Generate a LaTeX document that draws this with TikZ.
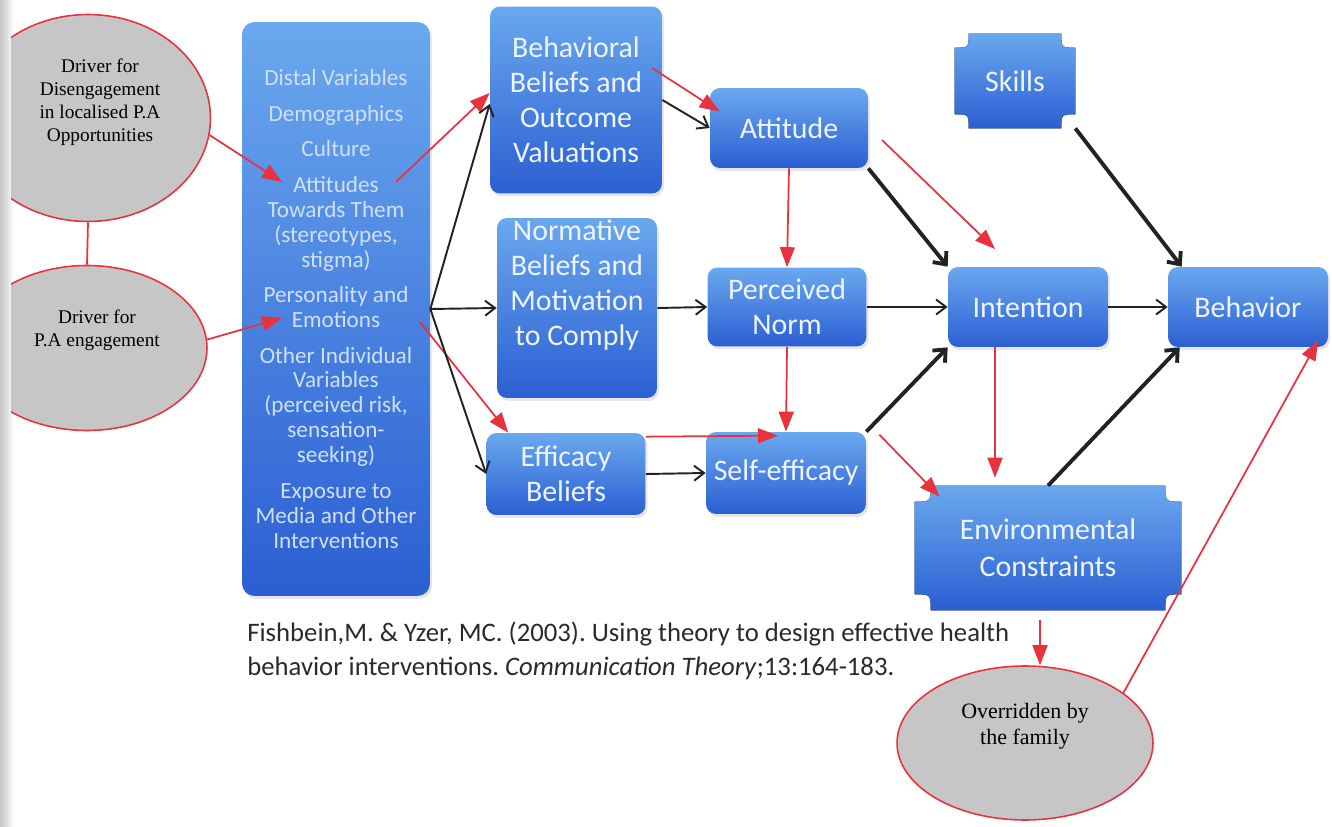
\documentclass[tikz,border=0pt]{standalone}
\usepackage{fontspec}
\setmainfont{Liberation Serif}
\newfontfamily\boxfont{Carlito}
\usetikzlibrary{calc, arrows.meta, shapes.geometric, backgrounds, shadows}

\definecolor{boxtop}{HTML}{6AA8EE}
\definecolor{boxbot}{HTML}{2B5FD2}
\definecolor{boxtext}{HTML}{EEF4FF}
\definecolor{disttext}{HTML}{D0E0FA}
\definecolor{linkred}{HTML}{E8323E}
\definecolor{ovalgray}{HTML}{C6C6C6}
\definecolor{linkblack}{HTML}{222222}
\definecolor{citegray}{HTML}{2A2A2A}

\tikzset{
  blk/.style={rounded corners=0.2cm, top color=boxtop, bottom color=boxbot,
    text=boxtext, align=center, inner sep=0pt,
    font=\boxfont\fontsize{17}{20}\selectfont,
    drop shadow={opacity=0.2, shadow xshift=0.4mm, shadow yshift=-0.6mm}},
  plaquetext/.style={text=boxtext, align=center, inner sep=0pt,
    font=\boxfont\fontsize{17}{21}\selectfont},
  oval/.style={ellipse, fill=ovalgray, draw=linkred, line width=0.9pt, inner sep=0pt},
  ovaltext/.style={align=center, font=\fontsize{11}{13}\selectfont},
  redarr/.style={linkred, line width=1pt, -{Triangle[length=4mm,width=3mm]}},
  thinarr/.style={linkblack, line width=1.1pt, -{Straight Barb[length=2mm,width=3mm]}},
  thickarr/.style={linkblack, line width=2.2pt, -{Straight Barb[length=2mm,width=3.5mm]}},
}

% box with hollowed corners, drawn round a named node
\newcommand{\plaque}[2]{%
  \fill[top color=boxtop, bottom color=boxbot]
    ($(#1.north west)+(#2,0pt)$) -- ($(#1.north east)+(-#2,0pt)$)
    .. controls ($(#1.north east)+(-#2,-#2)$) .. ($(#1.north east)+(0pt,-#2)$)
    -- ($(#1.south east)+(0pt,#2)$)
    .. controls ($(#1.south east)+(-#2,#2)$) .. ($(#1.south east)+(-#2,0pt)$)
    -- ($(#1.south west)+(#2,0pt)$)
    .. controls ($(#1.south west)+(#2,#2)$) .. ($(#1.south west)+(0pt,#2)$)
    -- ($(#1.north west)+(0pt,-#2)$)
    .. controls ($(#1.north west)+(#2,-#2)$) .. ($(#1.north west)+(#2,0pt)$) -- cycle;}

\begin{document}
\begin{tikzpicture}[x=0.02cm, y=-0.02cm]

  \useasboundingbox (0,0) rectangle (1332,827);
  \shade[left color=gray!45, right color=white] (0,0) rectangle (14,827);

  % 1. the two drivers, cut at the fold
  \begin{scope}
    \clip (11,0) rectangle (400,827);
    \node[oval, minimum width=4.9cm, minimum height=4.14cm] (e1) at (88,118) {};
    \node[oval, minimum width=4.8cm, minimum height=3.3cm] (e2) at (87,348) {};
  \end{scope}
  \node[ovaltext] (e1txt) at (100,102) {Driver for\\Disengagement\\in localised P.A\\Opportunities};
  \node[ovaltext] (e2txt) at (97,330) {Driver for\\P.A engagement};

  % 2. distal variables
  \node[blk, rounded corners=0.25cm, minimum width=3.76cm, minimum height=11.48cm,
        text=disttext, font=\boxfont\fontsize{13.2}{14.2}\selectfont] (dist) at (336,309)
    {Distal Variables\\[6pt]
     Demographics\\[6pt]
     Culture\\[6pt]
     Attitudes\\Towards Them\\(stereotypes,\\stigma)\\[6pt]
     Personality and\\Emotions\\[6pt]
     Other Individual\\Variables\\(perceived risk,\\sensation-\\seeking)\\[6pt]
     Exposure to\\Media and Other\\Interventions};

  % 3. beliefs, attitude, norm, efficacy
  \node[blk, minimum width=3.44cm, minimum height=3.74cm] (bb) at (576,100)
    {Behavioral\\Beliefs and\\Outcome\\Valuations};
  \node[blk, minimum width=3.2cm, minimum height=3.6cm] (norm) at (577,308)
    {Normative\\Beliefs and\\Motivation\\to Comply\\[0.3cm]\mbox{}};
  \node[blk, minimum width=3.18cm, minimum height=1.64cm] (eff) at (566,474) {Efficacy\\Beliefs};
  \node[blk, minimum width=3.16cm, minimum height=1.6cm] (att) at (789,128) {Attitude};
  \node[blk, minimum width=3.18cm, minimum height=1.58cm] (pn) at (787,307) {Perceived\\Norm};
  \node[blk, minimum width=3.2cm, minimum height=1.64cm] (se) at (786,473) {Self-efficacy};

  % 4. intention, behavior, skills, constraints
  \node[blk, minimum width=3.2cm, minimum height=1.6cm] (int) at (1028,307) {Intention};
  \node[blk, minimum width=3.2cm, minimum height=1.6cm] (beh) at (1248,307) {Behavior};
  \node[plaquetext, minimum width=2.4cm, minimum height=1.88cm] (sk) at (1015,81) {Skills};
  \node[plaquetext, minimum width=5.32cm, minimum height=2.48cm] (env) at (1048,548)
    {Environmental\\Constraints};
  \begin{scope}[on background layer]
    \plaque{sk}{0.28cm}
    \plaque{env}{0.32cm}
  \end{scope}

  \node[oval, minimum width=5.12cm, minimum height=3.08cm] (ov) at (1025,743) {};
  \node[ovaltext, font=\fontsize{12.5}{15}\selectfont] (ovtxt) at (1025,726) {Overridden by\\the family};

  % 5. reference
  \node[anchor=north west, align=left, inner sep=0pt, text=citegray,
        font=\boxfont\fontsize{15.2}{19.3}\selectfont\frenchspacing] (cite) at (247,622)
    {Fishbein,M. \& Yzer, MC. (2003). Using theory to design effective health\\
     behavior interventions. \textit{Communication Theory};13:164-183.};

  % 6. links from the drivers
  \coordinate (att-in) at (282,182);
  \coordinate (emo-in) at (282,318);
  \coordinate (att-out) at (396,182);
  \coordinate (emo-out) at (420,322);
  \draw[linkred, line width=1pt] (e1.south) -- (e2.north);
  \draw[redarr] (e1.-8) -- (att-in);
  \draw[redarr] (e2.4) -- (emo-in);
  \draw[redarr] (att-out) -- ($(bb.west)+(0,-7)$);
  \draw[redarr] (emo-out) -- ($(eff.north west)+(22,0)$);

  % 7. model links
  \draw[thinarr] (dist.east) -- ($(bb.west)+(0,4)$);
  \draw[thinarr] (dist.east) -- (norm.west);
  \draw[thinarr] (dist.east) -- (eff.west);
  \draw[thinarr] (bb.east) -- (att.west);
  \draw[thinarr] (norm.east) -- (pn.west);
  \draw[thinarr] (eff.east) -- (se.west);
  \draw[thinarr] (pn.east) -- (int.west);
  \draw[thinarr] (int.east) -- (beh.west);
  \draw[thickarr] (att.south east) -- (int.north west);
  \draw[thickarr] (se.north east) -- (int.south west);
  \draw[thickarr] (sk.south east) -- ($(beh.north west)+(14,0)$);
  \draw[thickarr] (env.north) -- ($(beh.south west)+(12,0)$);

  % 8. added red links
  \coordinate (att-right) at (882,140);
  \coordinate (int-above) at (995,249);
  \draw[redarr] ($(bb.north east)+(-10,62)$) -- ($(att.north west)+(10,24)$);
  \draw[redarr] (att.south) -- (pn.north);
  \draw[redarr] (pn.south) -- (se.north);
  \draw[redarr] ($(eff.north east)+(0,4)$) -- ($(se.north)+(-8,4)$);
  \draw[redarr] (att-right) -- (int-above);
  \draw[redarr] ($(se.north east)+(13,3)$) -- ($(env.north west)+(25,11)$);
  \draw[redarr] ($(int.south)+(-33,0)$) -- ($(env.north)+(-53,-8)$);
  \draw[redarr] ($(env.south)+(-8,10)$) -- ($(ov.north)+(15,0)$);
  \draw[redarr] (ov.27) -- ($(beh.south east)+(-10,-7)$);

\end{tikzpicture}
\end{document}
